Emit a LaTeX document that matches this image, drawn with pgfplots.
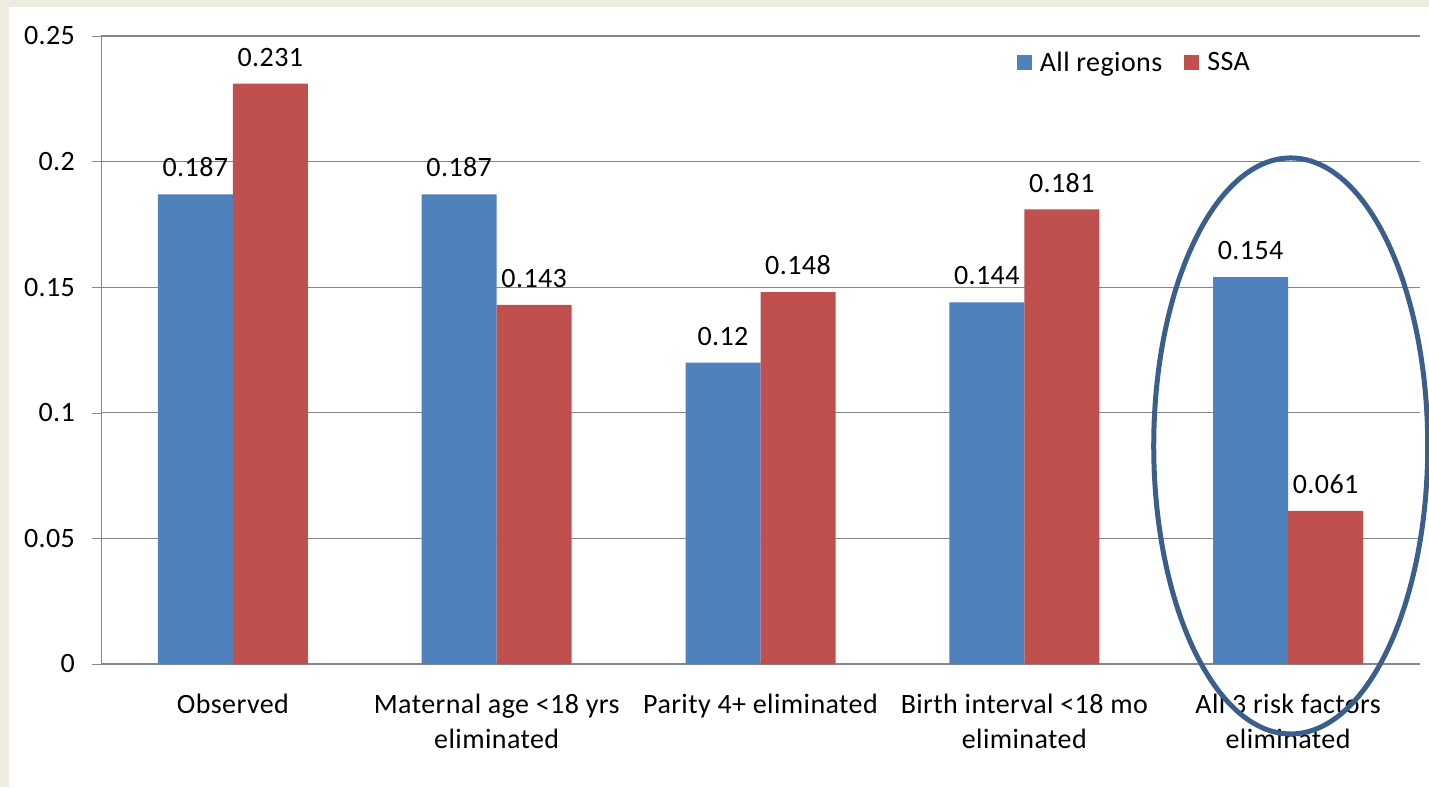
\documentclass[border=0pt]{standalone}
\usepackage{pgfplots}
\pgfplotsset{compat=1.18}
\usepackage{fontspec}
\setmainfont{Carlito}[LetterSpace=1.5]
\definecolor{bgbeige}{HTML}{EEEBE0}
\definecolor{barblue}{HTML}{4F81BD}
\definecolor{barred}{HTML}{C0504D}
\definecolor{gridgrey}{HTML}{868686}
\definecolor{ringblue}{HTML}{3B5F8B}

\begin{document}
\begin{tikzpicture}
% beige frame and white chart area (1 px = 0.5pt)
\fill[bgbeige] (0,0) rectangle (714.5pt,393.5pt);
\fill[white] (4.5pt,0) rectangle (714.5pt,390pt);
\begin{axis}[
    at={(50.5pt,61.5pt)}, anchor=south west,
    scale only axis,
    width=659.5pt, height=314pt,
    ybar=0pt, bar width=37.5pt,
    xmin=0.5, xmax=5.5,
    ymin=0, ymax=0.25,
    axis x line*=bottom, axis y line*=left,
    axis line style={gridgrey},
    xtick={1,...,5},
    xticklabels={Observed, Maternal age <18 yrs\\eliminated, Parity 4+ eliminated,
                 Birth interval <18 mo\\eliminated, All 3 risk factors\\eliminated},
    xtick style={draw=none},
    minor xtick={0.5,1.5,...,5.5},
    minor x tick style={gridgrey},
    minor tick length=4.5pt,
    ytick={0,0.05,0.1,0.15,0.2,0.25},
    ytick style={gridgrey},
    major tick length=4.5pt,
    tick align=outside,
    ymajorgrids, grid style={gridgrey, line width=0.6pt},
    scaled y ticks=false,
    /pgf/number format/fixed,
    /pgf/number format/precision=3,
    /pgf/number format/assume math mode=true,
    tick label style={font=\fontsize{14}{17.5}\selectfont, text=black},
    xticklabel style={align=center, yshift=-7pt},
    yticklabel style={xshift=-5pt},
    nodes near coords,
    nodes near coords style={font=\fontsize{14}{17.5}\selectfont, text=black, yshift=5pt},
    legend style={at={(rel axis cs:0.694,0.957)}, anchor=west, draw=none, fill=none,
        font=\fontsize{14}{17.5}\selectfont, inner sep=0pt,
        /tikz/every odd column/.append style={column sep=2pt},
        /tikz/every even column/.append style={column sep=9pt}},
    legend columns=2,
    legend image code/.code={\fill[#1] (0pt,-3.75pt) rectangle (7.5pt,3.75pt);},
    clip=false,
]
\addplot[draw=none, fill=barblue] coordinates {(1,0.187) (2,0.187) (3,0.12) (4,0.144) (5,0.154)};
\addlegendentry{All regions}
\addplot[draw=none, fill=barred] coordinates {(1,0.231) (2,0.143) (3,0.148) (4,0.181) (5,0.061)};
\addlegendentry{SSA}
\draw[ringblue, line width=2.5pt] (axis cs:5.01,0.0868) ellipse [x radius=68.5pt, y radius=144pt];
\end{axis}
\pgfresetboundingbox
\path[use as bounding box] (0,0) rectangle (714.5pt,393.5pt);
\end{tikzpicture}
\end{document}
